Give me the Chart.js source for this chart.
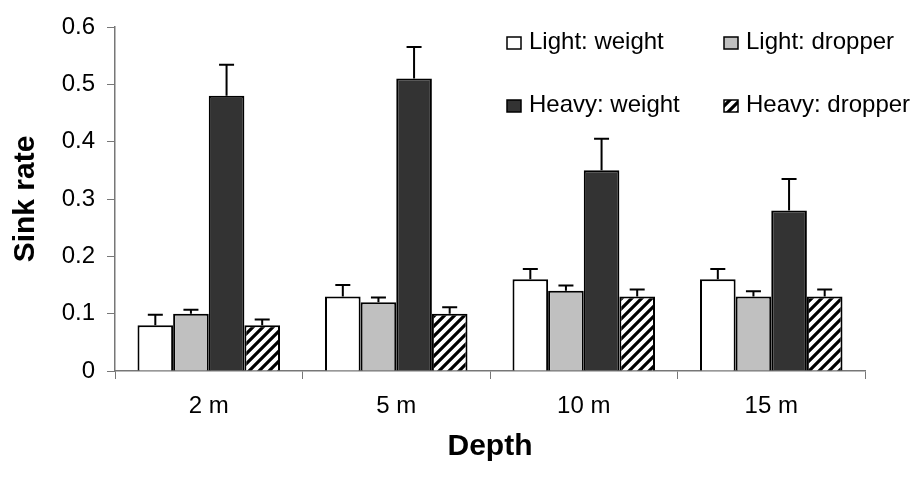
<!DOCTYPE html>
<html>
<head>
<meta charset="utf-8">
<script src="https://cdn.jsdelivr.net/npm/chart.js@4.4.0/dist/chart.umd.min.js"></script>
<style>
  html, body { margin: 0; padding: 0; background: #fff; }
  #wrap { width: 922px; height: 477px; }
</style>
</head>
<body>
<div id="wrap"><canvas id="grafica" width="922" height="477"></canvas></div>
<script>
// datos
const profundidades = ['2 m', '5 m', '10 m', '15 m'];
const ligeroPeso = [0.08, 0.13, 0.16, 0.16];
const ligeroGotero = [0.10, 0.12, 0.14, 0.13];
const pesadoPeso = [0.48, 0.51, 0.35, 0.28];
const pesadoGotero = [0.08, 0.10, 0.13, 0.13];
// error (solo la parte superior se ve)
const errLigeroPeso = [0.018, 0.02, 0.018, 0.018];
const errLigeroGotero = [0.007, 0.008, 0.009, 0.009];
const errPesadoPeso = [0.054, 0.055, 0.055, 0.055];
const errPesadoGotero = [0.01, 0.011, 0.012, 0.012];
const ticksY = [0, 0.1, 0.2, 0.3, 0.4, 0.5, 0.6];

const fuente = "'Liberation Sans', Arial, sans-serif";

function rayado() {
    const n = 10;
    const c = document.createElement('canvas');
    c.width = n; c.height = n;
    const g = c.getContext('2d');
    g.fillStyle = '#fff';
    g.fillRect(0, 0, n, n);
    g.strokeStyle = '#000';
    g.lineWidth = 3.2;
    g.beginPath();
    g.moveTo(-2, n + 2); g.lineTo(n + 2, -2);
    g.moveTo(-n - 2, n + 2); g.lineTo(2, -2);
    g.moveTo(n - 2, n + 2); g.lineTo(2 * n + 2, -2);
    g.stroke();
    return g.createPattern(c, 'repeat');
}

const barrasError = {
    id: 'barrasError',
    afterDatasetsDraw(chart) {
        const ctx = chart.ctx;
        const y = chart.scales.y;
        ctx.save();
        ctx.strokeStyle = '#000';
        ctx.lineWidth = 2;
        chart.data.datasets.forEach((ds, i) => {
            const meta = chart.getDatasetMeta(i);
            meta.data.forEach((bar, j) => {
                const top = y.getPixelForValue(ds.data[j] + ds.errores[j]);
                ctx.beginPath();
                ctx.moveTo(bar.x, bar.y);
                ctx.lineTo(bar.x, top);
                ctx.moveTo(bar.x - 7.5, top);
                ctx.lineTo(bar.x + 7.5, top);
                ctx.stroke();
            });
        });
        ctx.restore();
    }
};

const leyenda = {
    id: 'leyenda',
    afterDraw(chart) {
        const ctx = chart.ctx;
        const cols = [507, 724];
        const filas = [42, 105];
        ctx.save();
        ctx.font = '24px ' + fuente;
        ctx.textBaseline = 'middle';
        chart.data.datasets.forEach((ds, i) => {
            const x = cols[i % 2];
            const yy = filas[Math.floor(i / 2)];
            ctx.fillStyle = ds.backgroundColor;
            ctx.fillRect(x, yy - 5, 14, 12);
            ctx.strokeStyle = '#000';
            ctx.lineWidth = 1.5;
            ctx.strokeRect(x, yy - 5, 14, 12);
            ctx.fillStyle = '#000';
            ctx.fillText(ds.label, x + 22, yy);
        });
        ctx.restore();
    }
};

const ctx = document.getElementById('grafica').getContext('2d');
const base = { borderColor: '#000', borderWidth: 2, barPercentage: 1, categoryPercentage: 0.76 };

new Chart(ctx, {
    type: 'bar',
    data: {
        labels: profundidades,
        datasets: [
            { ...base, label: 'Light: weight', data: ligeroPeso, errores: errLigeroPeso, backgroundColor: '#ffffff' },
            { ...base, label: 'Light: dropper', data: ligeroGotero, errores: errLigeroGotero, backgroundColor: '#c0c0c0' },
            { ...base, label: 'Heavy: weight', data: pesadoPeso, errores: errPesadoPeso, backgroundColor: '#333333' },
            { ...base, label: 'Heavy: dropper', data: pesadoGotero, errores: errPesadoGotero, backgroundColor: rayado() }
        ]
    },
    options: {
        responsive: false,
        animation: false,
        layout: { padding: { top: 27, right: 57, left: 0, bottom: 0 } },
        plugins: {
            legend: { display: false },
            tooltip: { enabled: false }
        },
        scales: {
            x: {
                grid: { display: true, drawOnChartArea: false, color: '#777', tickLength: 8, offset: true },
                border: { color: '#777', width: 1.5 },
                ticks: { color: '#000', font: { family: fuente, size: 24 }, padding: 13 },
                title: { display: true, text: 'Depth', color: '#000', font: { family: fuente, size: 30, weight: 'bold' }, padding: { top: 4, bottom: 12 } },
                afterFit(s) { s.height = 106; }
            },
            y: {
                min: 0, max: 0.6,
                afterBuildTicks(s) { s.ticks = ticksY.map(v => ({ value: v })); },
                grid: { display: true, drawOnChartArea: false, color: '#777', tickLength: 8 },
                border: { color: '#777', width: 1.5 },
                ticks: { color: '#000', font: { family: fuente, size: 24 }, padding: 12,
                    callback: v => v === 0 ? '0' : v.toFixed(1) },
                title: { display: true, text: 'Sink rate', color: '#000', font: { family: fuente, size: 30, weight: 'bold' }, padding: { top: 8, bottom: 0 } },
                afterFit(s) { s.width = 115; }
            }
        }
    },
    plugins: [barrasError, leyenda]
});
</script>
</body>
</html>
